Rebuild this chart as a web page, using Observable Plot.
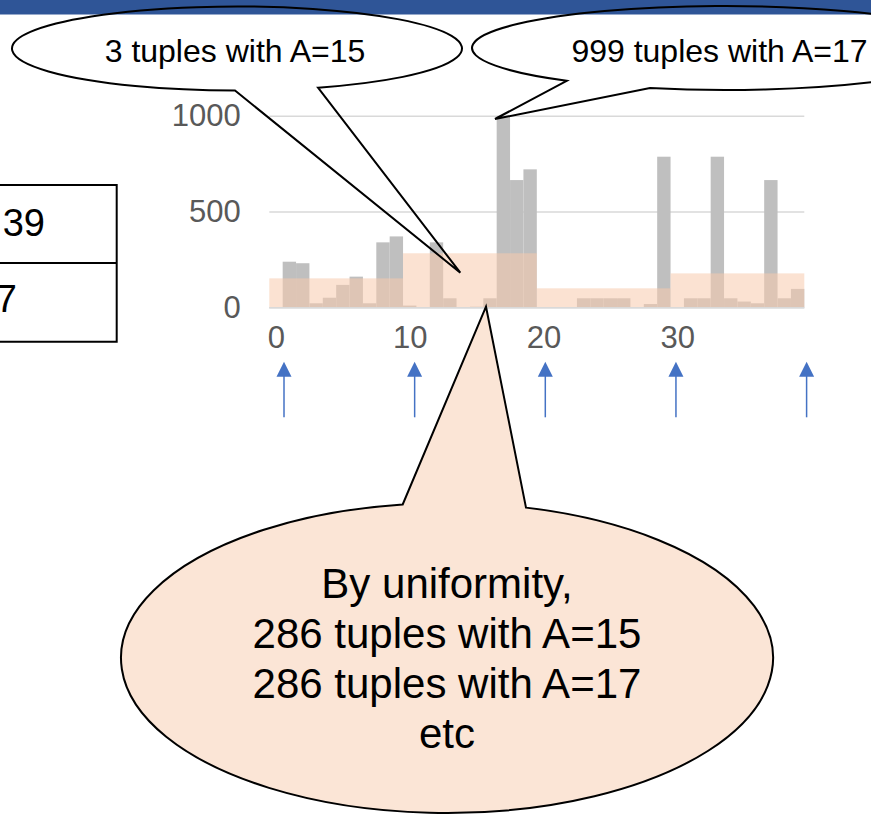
<!DOCTYPE html>
<html>
<head>
<meta charset="utf-8">
<script src="https://cdn.jsdelivr.net/npm/d3@7"></script>
<script src="https://cdn.jsdelivr.net/npm/@observablehq/plot@0.6"></script>
<style>
  html, body { margin: 0; padding: 0; background: #fff; overflow: hidden; }
  #chart svg { display: block; }
</style>
</head>
<body>
<div id="chart"></div>
<script>
// ---------------- data ----------------
const values = d3.range(40);                        // attribute value A = 0..39
const counts = [
  0, 238, 230, 21, 50, 117, 160, 21, 339, 370,
  9, 0, 339, 47, 0, 3, 47, 999, 664, 720,
  0, 0, 0, 47, 47, 47, 47, 0, 17, 786,
  0, 47, 47, 786, 47, 30, 21, 664, 47, 96
];
const bucketEdges = [0, 10, 20, 30, 40];
const bucketHeights = [151, 282, 99, 177];          // uniform-assumption average per value
const yTicks = [0, 500, 1000];
const xTickLabels = [0, 10, 20, 30];
const boundaryArrows = [0, 10, 20, 30, 40];
const tableCells = ["39", "7"];
const calloutLeft = "3 tuples with A=15";
const calloutRight = "999 tuples with A=17";
const uniformText = ["By uniformity,", "286 tuples with A=15", "286 tuples with A=17", "etc"];

const bars = values.map((a, i) => ({a, n: counts[i]}));
const buckets = bucketHeights.map((h, i) => ({lo: bucketEdges[i], hi: bucketEdges[i + 1], h}));

// ---------------- chart ----------------
const FONT = "'Liberation Sans', Arial, Helvetica, sans-serif";
const W = 871, H = 815;

const plot = Plot.plot({
  width: W, height: H,
  marginLeft: 269.3, marginRight: 66.7, marginTop: 115.7, marginBottom: 507.7,
  x: {type: "linear", domain: [0, 40], axis: null},
  y: {type: "linear", domain: [0, 1000], axis: null},
  style: {fontFamily: FONT, fontSize: "31px", background: "transparent", overflow: "visible"},
  marks: [
    Plot.ruleY(yTicks, {stroke: "#d9d9d9", strokeWidth: 1.4}),
    Plot.rectY(bars, {x1: "a", x2: d => d.a + 1, y: "n", fill: "#bfbfbf", inset: 0}),
    Plot.rectY(buckets, {x1: "lo", x2: "hi", y: "h", fill: "#f8cbad", fillOpacity: 0.55, inset: 0}),
    Plot.ruleY([0], {stroke: "#d9d9d9", strokeWidth: 1.4}),
    Plot.text(yTicks, {x: 0, y: d => d, dx: -29, textAnchor: "end", lineAnchor: "middle",
      text: d => String(d), fill: "#595959", fontSize: 31}),
    Plot.text(xTickLabels, {x: d => d + 0.5, y: 0, dy: 30, lineAnchor: "middle",
      text: d => String(d), fill: "#595959", fontSize: 31})
  ]
});
document.getElementById("chart").appendChild(plot);

// ---------------- annotations (slide drawing overlay) ----------------
const svg = d3.select(plot);
const ann = svg.append("g").attr("font-family", FONT);

// slide title band
ann.append("rect").attr("x", 0).attr("y", 0).attr("width", W).attr("height", 14.5).attr("fill", "#2f5597");

function ellY(cx, cy, rx, ry, x, sign) {
  const t = (x - cx) / rx;
  return cy + sign * ry * Math.sqrt(Math.max(0, 1 - t * t));
}
// speech bubble with tail below
function bubbleDown(cx, cy, rx, ry, bx1, bx2, tip) {
  const b1 = [bx1, ellY(cx, cy, rx, ry, bx1, 1)];
  const b2 = [bx2, ellY(cx, cy, rx, ry, bx2, 1)];
  return `M${b2[0]},${b2[1]} A${rx},${ry} 0 1 0 ${b1[0]},${b1[1]} L${tip[0]},${tip[1]} Z`;
}
// speech bubble with tail above
function bubbleUp(cx, cy, rx, ry, bx1, bx2, tip) {
  const b1 = [bx1, ellY(cx, cy, rx, ry, bx1, -1)];
  const b2 = [bx2, ellY(cx, cy, rx, ry, bx2, -1)];
  return `M${b1[0]},${b1[1]} A${rx},${ry} 0 1 0 ${b2[0]},${b2[1]} L${tip[0]},${tip[1]} Z`;
}

// top-left callout
ann.append("path")
  .attr("d", bubbleDown(237, 48.5, 225, 42, 235, 318, [460.3, 272.7]))
  .attr("fill", "none").attr("stroke", "#000").attr("stroke-width", 2);
ann.append("text").attr("x", 235).attr("y", 62.3).attr("text-anchor", "middle")
  .attr("font-size", 32).attr("fill", "#000").text(calloutLeft);

// top-right callout
ann.append("path")
  .attr("d", bubbleDown(725, 48, 253, 42, 566.7, 650, [495, 119]))
  .attr("fill", "none").attr("stroke", "#000").attr("stroke-width", 2);
ann.append("text").attr("x", 719.5).attr("y", 62.3).attr("text-anchor", "middle")
  .attr("font-size", 32).attr("fill", "#000").text(calloutRight);

// bottom callout
ann.append("path")
  .attr("d", bubbleUp(447, 658, 326, 155, 402.7, 526, [486, 306.7]))
  .attr("fill", "#fbe5d6").attr("stroke", "#000").attr("stroke-width", 2);
uniformText.forEach((t, i) => {
  ann.append("text").attr("x", 447).attr("y", 598.3 + i * 50).attr("text-anchor", "middle")
    .attr("font-size", 42).attr("fill", "#000").text(t);
});

// bucket boundary arrows
const ax = d3.scaleLinear([0, 40], [284, 806.6]);
boundaryArrows.forEach(v => {
  const x = ax(v);
  ann.append("line").attr("x1", x).attr("x2", x).attr("y1", 375).attr("y2", 417.3)
    .attr("stroke", "#4472c4").attr("stroke-width", 1.5);
  ann.append("path").attr("d", `M${x},361.7 L${x - 7.5},376.7 L${x + 7.5},376.7 Z`).attr("fill", "#4472c4");
});

// partial table at left edge
ann.append("path").attr("d", "M-10,185 H116.7 V341.7 H-10 M-10,263 H116.7")
  .attr("fill", "none").attr("stroke", "#000").attr("stroke-width", 2);
ann.append("text").attr("x", 45).attr("y", 236).attr("text-anchor", "end")
  .attr("font-size", 38).attr("fill", "#000").text(tableCells[0]);
ann.append("text").attr("x", 17).attr("y", 312).attr("text-anchor", "end")
  .attr("font-size", 38).attr("fill", "#000").text(tableCells[1]);
</script>
</body>
</html>
